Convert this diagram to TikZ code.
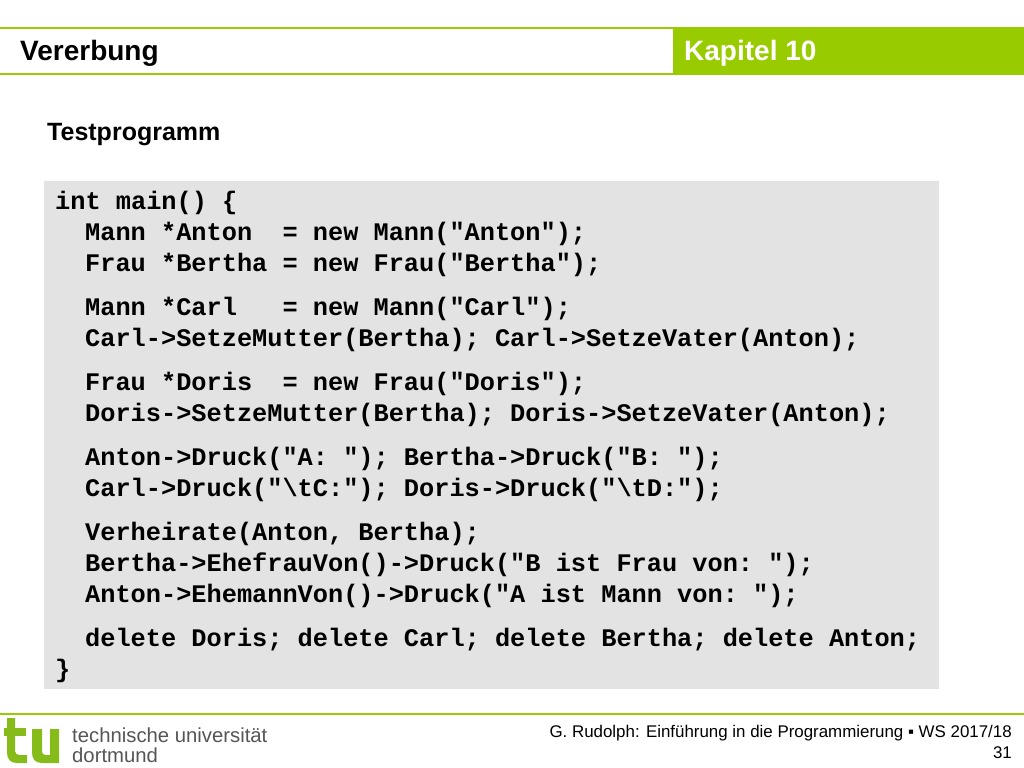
\documentclass[tikz,border=0pt]{standalone}
\usepackage{fontspec}
\setmainfont{Liberation Sans}
\setmonofont{Liberation Mono}
\usetikzlibrary{positioning}
\definecolor{tugreen}{HTML}{99CC00}
\definecolor{logogreen}{HTML}{86BC1A}
\definecolor{codegray}{HTML}{E3E3E3}
\definecolor{tugray}{HTML}{555555}
\tikzset{
    codeline/.style = {anchor=base west, inner sep=0pt, font=\ttfamily\bfseries\fontsize{25.3bp}{31bp}\selectfont},
    headtext/.style = {anchor=base west, inner sep=0pt, font=\bfseries\fontsize{28bp}{32bp}\selectfont},
    subtext/.style = {anchor=base west, inner sep=0pt, font=\bfseries\fontsize{25bp}{28bp}\selectfont},
    foottext/.style = {anchor=base east, inner sep=0pt, font=\fontsize{16.9bp}{20bp}\selectfont},
    unitext/.style = {anchor=base west, inner sep=0pt, text=tugray, font=\fontsize{20.3bp}{22bp}\selectfont},
    rulegreen/.style = {tugreen, line width=2bp},
}

\begin{document}
\begin{tikzpicture}[x=1bp,y=-1bp]
\useasboundingbox (0,0) rectangle (1024,768);
% header
\fill[tugreen] (673,28) rectangle (1024,74);
\draw[rulegreen] (0,28) -- (1024,28);
\draw[rulegreen] (0,74) -- (1024,74);
\node[headtext] at (20,61) (title) {Vererbung};
\node[headtext, text=white] at (684,61) (chapter) {Kapitel 10};
\node[subtext] at (47,140) (sub) {Testprogramm};
% code
\fill[codegray] (44,181) rectangle (939,689);
\node[codeline] at (55,209) (l1) {int main() \{};
\node[codeline] at (85,240) (l2) {Mann *Anton~ = new Mann("Anton");};
\node[codeline] at (85,271) (l3) {Frau *Bertha = new Frau("Bertha");};
\node[codeline] at (85,315) (l4) {Mann *Carl~~ = new Mann("Carl");};
\node[codeline] at (85,346) (l5) {Carl->SetzeMutter(Bertha); Carl->SetzeVater(Anton);};
\node[codeline] at (85,390) (l6) {Frau *Doris~ = new Frau("Doris");};
\node[codeline] at (85,421) (l7) {Doris->SetzeMutter(Bertha); Doris->SetzeVater(Anton);};
\node[codeline] at (85,465) (l8) {Anton->Druck("A: "); Bertha->Druck("B: ");};
\node[codeline] at (85,496) (l9) {Carl->Druck("\textbackslash tC:"); Doris->Druck("\textbackslash tD:");};
\node[codeline] at (85,540) (l10) {Verheirate(Anton, Bertha);};
\node[codeline] at (85,571) (l11) {Bertha->EhefrauVon()->Druck("B ist Frau von: ");};
\node[codeline] at (85,602) (l12) {Anton->EhemannVon()->Druck("A ist Mann von: ");};
\node[codeline] at (85,646) (l13) {delete Doris; delete Carl; delete Bertha; delete Anton;};
\node[codeline] at (55,677) (l14) {\}};
% footer
\draw[rulegreen] (0,714) -- (1024,714);
\fill[logogreen] (4,728) rectangle (26,736);
\fill[logogreen] (7,718) -- (15,718) -- (15,751) .. controls (15,754) and (17,755) .. (20,755) -- (27,755) -- (27,763) -- (17,763) .. controls (10,763) and (7,759) .. (7,752) -- cycle;
\fill[logogreen] (32,729) -- (42,729) -- (42,751) .. controls (42,754) and (43,755) .. (46,755) -- (50,755) -- (50,729) -- (59,729) -- (59,763) -- (42,763) .. controls (35,763) and (32,759) .. (32,752) -- cycle;
\node[unitext] at (72,742) (uni) {technische universität};
\node[unitext] at (72,762) (city) {dortmund};
\node[foottext] at (1012,737) (course) {G. Rudolph: Einführung in die Programmierung ▪ WS 2017/18};
\node[foottext] at (1012,758) (page) {31};
\end{tikzpicture}
\end{document}
